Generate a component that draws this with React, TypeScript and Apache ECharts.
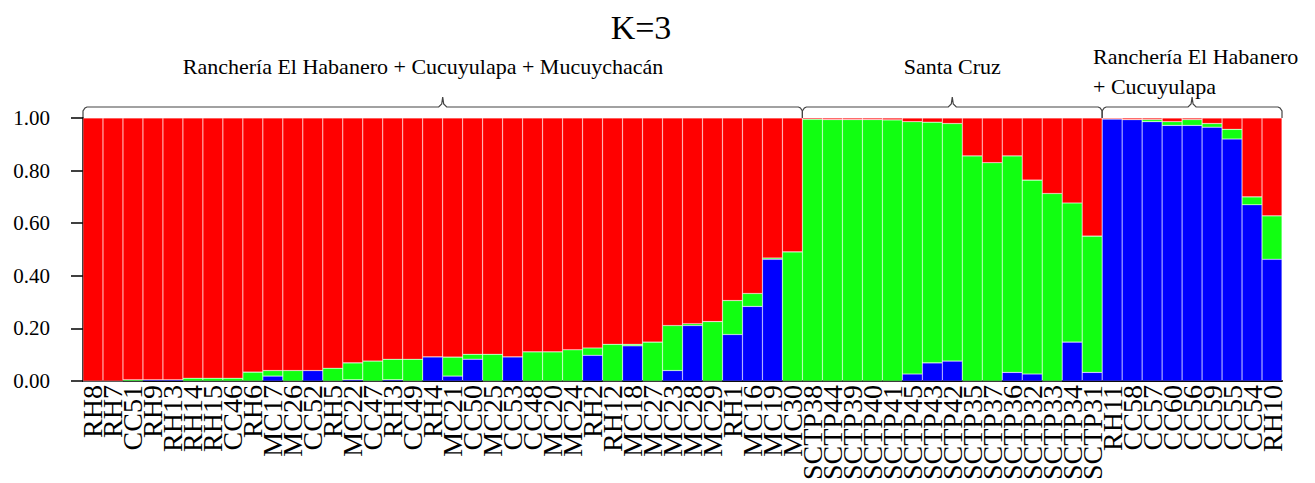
import React, { useEffect, useRef } from "react";
import * as echarts from "echarts";

const samples = [
  "RH8", "RH7", "CC51", "RH9", "RH13", "RH14", "RH15", "CC46", "RH6", "MC17",
  "MC26", "CC52", "RH5", "MC22", "CC47", "RH3", "CC49", "RH4", "MC21", "CC50",
  "MC25", "CC53", "CC48", "MC20", "MC24", "RH2", "RH12", "MC18", "MC27", "MC23",
  "MC28", "MC29", "RH1", "MC16", "MC19", "MC30",
  "SCTP38", "SCTP44", "SCTP39", "SCTP40", "SCTP41", "SCTP45", "SCTP43", "SCTP42",
  "SCTP35", "SCTP37", "SCTP36", "SCTP32", "SCTP33", "SCTP34", "SCTP31",
  "RH11", "CC58", "CC57", "CC60", "CC56", "CC59", "CC55", "CC54", "RH10",
];

// ancestry coefficient of cluster 1 (blue, bottom)
const clusterBlue = [
  0, 0, 0, 0.005, 0.005, 0, 0, 0, 0, 0.019,
  0, 0.04, 0, 0.005, 0, 0.005, 0, 0.092, 0.019, 0.083,
  0, 0.092, 0, 0, 0, 0.098, 0, 0.134, 0, 0.04,
  0.211, 0, 0.177, 0.284, 0.463, 0,
  0, 0, 0, 0, 0, 0.027, 0.069, 0.076,
  0, 0, 0.033, 0.027, 0, 0.148, 0.033,
  0.996, 0.994, 0.986, 0.972, 0.972, 0.965, 0.92, 0.67, 0.463,
];

// ancestry coefficient of cluster 2 (green, middle)
const clusterGreen = [
  0, 0, 0.005, 0, 0, 0.011, 0.011, 0.011, 0.034, 0.021,
  0.04, 0, 0.049, 0.064, 0.076, 0.078, 0.083, 0, 0.072, 0.019,
  0.102, 0, 0.111, 0.111, 0.119, 0.028, 0.14, 0.006, 0.148, 0.171,
  0.007, 0.226, 0.129, 0.049, 0.005, 0.491,
  0.995, 0.994, 0.994, 0.994, 0.993, 0.959, 0.915, 0.903,
  0.856, 0.83, 0.823, 0.737, 0.713, 0.529, 0.518,
  0, 0, 0.008, 0.014, 0.022, 0.014, 0.037, 0.03, 0.165,
];

// ancestry coefficient of cluster 3 (red, top) = remainder
const clusterRed = clusterBlue.map((b, i) => +(1 - b - clusterGreen[i]).toFixed(3));

const groupNames = [
  "Ranchería El Habanero + Cucuyulapa + Mucuychacán",
  "Santa Cruz",
  "Ranchería El Habanero\n+ Cucuyulapa",
];
const groupSizes = [36, 15, 9];

const yTicks = [0, 0.2, 0.4, 0.6, 0.8, 1.0];

const FONT = "Liberation Serif";

export default function App() {
  const ref = useRef<HTMLDivElement>(null);

  useEffect(() => {
    if (!ref.current) return;
    const chart = echarts.init(ref.current, null, { renderer: "svg" });
    const barStyle = (color: string) => ({
      color,
      borderColor: "rgba(255,255,255,0.3)",
      borderWidth: 0.6,
    });
    chart.setOption({
      animation: false,
      backgroundColor: "#ffffff",
      textStyle: { fontFamily: FONT },
      grid: { left: 83, right: 33, top: 118, bottom: 100 },
      xAxis: {
        type: "category",
        data: samples,
        axisLine: { lineStyle: { color: "#000", width: 2 } },
        axisTick: { show: false },
        axisLabel: {
          interval: 0,
          rotate: 90,
          margin: 4,
          fontFamily: FONT,
          fontSize: 28,
          color: "#000",
        },
      },
      yAxis: {
        type: "value",
        min: yTicks[0],
        max: yTicks[yTicks.length - 1],
        interval: 0.2,
        splitLine: { show: false },
        axisLine: { show: true, lineStyle: { color: "#000", width: 1.5 } },
        axisTick: { show: true, length: 12, lineStyle: { color: "#000", width: 1.5 } },
        axisLabel: {
          fontFamily: FONT,
          fontSize: 21,
          color: "#000",
          margin: 33,
          formatter: (v: number) => v.toFixed(2),
        },
      },
      series: [
        { name: "K1", type: "bar", stack: "q", data: clusterBlue, barCategoryGap: 0, itemStyle: barStyle("#0000ff") },
        { name: "K2", type: "bar", stack: "q", data: clusterGreen, barCategoryGap: 0, itemStyle: barStyle("#11ff11") },
        { name: "K3", type: "bar", stack: "q", data: clusterRed, barCategoryGap: 0, itemStyle: barStyle("#ff0000") },
      ],
    });

    const c0 = chart.convertToPixel({ xAxisIndex: 0 }, 0) as number;
    const c1 = chart.convertToPixel({ xAxisIndex: 0 }, 1) as number;
    const step = c1 - c0;
    const txt = (text: string, x: number, y: number, size: number, align: string, lh?: number) => ({
      type: "text",
      x,
      y,
      style: {
        text,
        fontFamily: FONT,
        fontSize: size,
        lineHeight: lh,
        fill: "#000",
        textAlign: align,
      },
    });
    const graphics: any[] = [txt("K=3", 641, 10, 34, "center")];
    let start = 0;
    const yLine = 107;
    groupSizes.forEach((n, gi) => {
      const L = c0 - step / 2 + start * step;
      const R = c0 - step / 2 + (start + n) * step;
      const C = (L + R) / 2;
      const pts = [
        [L, 118], [L, 111], [L + 2, 108], [L + 4, yLine],
        [C - 4, yLine], [C - 1, yLine - 3], [C, yLine - 10],
        [C, yLine - 10], [C + 1, yLine - 3], [C + 4, yLine],
        [R - 4, yLine], [R - 2, yLine + 1], [R, yLine + 4], [R, 118],
      ];
      graphics.push({
        type: "polyline",
        shape: { points: pts },
        style: { stroke: "#444", lineWidth: 1.2, fill: null },
      });
      start += n;
      if (gi === 0) {
        graphics.push(txt(groupNames[0], 423, 55, 22, "center"));
      } else if (gi === 1) {
        graphics.push(txt(groupNames[1], C, 55, 22, "center"));
      } else {
        graphics.push(txt(groupNames[2], 1093, 41, 22, "left", 30));
      }
    });
    chart.setOption({ graphic: graphics });

    return () => chart.dispose();
  }, []);

  return (
    <div
      ref={ref}
      style={{ position: "fixed", left: 0, top: 0, width: 1315, height: 483, background: "#fff" }}
    />
  );
}
